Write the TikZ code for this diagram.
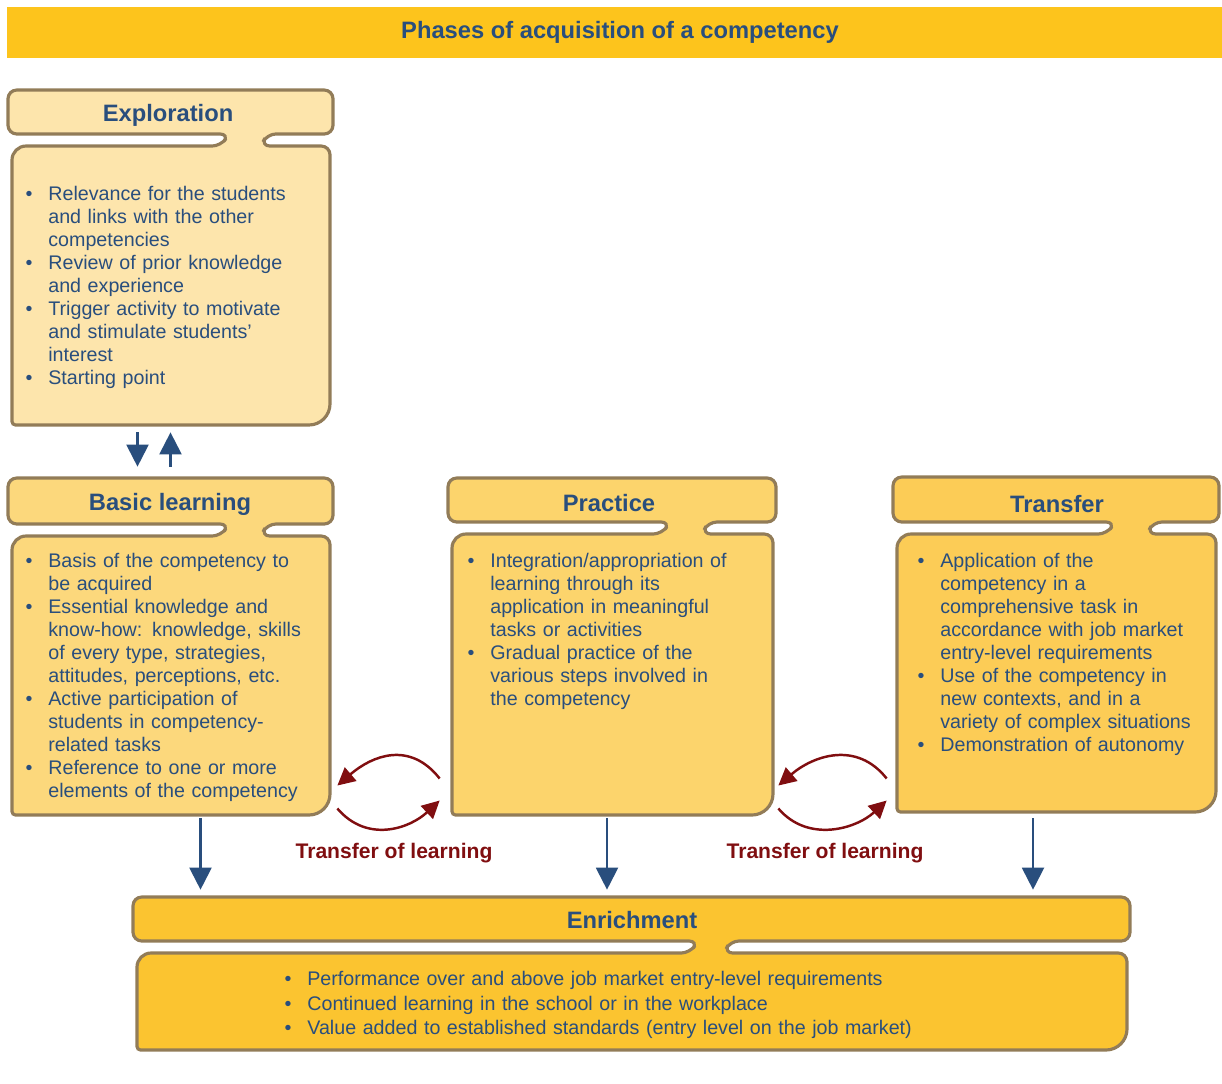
\documentclass[tikz,border=0pt]{standalone}
\usepackage{fontspec}
\setmainfont{Liberation Sans}
\usepackage{enumitem}
\usepackage{tikz}
\usetikzlibrary{arrows.meta, calc, fit}

\definecolor{titlebar}{RGB}{253,196,28}
\definecolor{inkblue}{RGB}{41,78,125}
\definecolor{inkred}{RGB}{128,14,16}
\definecolor{edge}{RGB}{146,124,88}
\definecolor{explfill}{RGB}{253,229,172}
\definecolor{basicfill}{RGB}{252,216,124}
\definecolor{pracfill}{RGB}{252,212,108}
\definecolor{transfill}{RGB}{252,204,86}
\definecolor{enrfill}{RGB}{251,196,48}

\setlist[itemize]{label=\textbullet, leftmargin=14.8pt, labelsep=9pt,
  itemsep=0pt, parsep=0pt, topsep=0pt, partopsep=0pt}

\newcommand{\headfont}{\fontsize{13.5pt}{15pt}\selectfont\bfseries}
\newcommand{\bodyfont}{\fontsize{11.2pt}{13.1pt}\selectfont}

\tikzset{
    phase/.style={draw=edge, line width=1.8pt, rounded corners=5pt},
    head/.style={text=inkblue, font=\headfont},
    bodytext/.style={text=inkblue, font=\bodyfont, anchor=north west,
        inner sep=0pt, align=left, text width=#1},
    bodytext/.default=175pt,
    area/.style={inner sep=0pt, draw=none},
    flow/.style={draw=inkblue, line width=1.2pt,
        -{Triangle[length=12.5pt, width=12.5pt]}},
    xfer/.style={draw=inkred, line width=1.4pt,
        -{Triangle[length=10pt, width=10pt]}},
    xferlabel/.style={text=inkred, font=\fontsize{12pt}{14pt}\selectfont\bfseries},
}

% tab shaped box: fill, left, right, top, header bottom, bottom, neck, neck width
\newcommand{\phaseshape}[8]{%
  \filldraw[phase, fill=#1]
    (#2,#5) -- (#2,#4) -- (#3,#4) -- (#3,#5) -- ({#7+#8},#5) -- ({#7+#8-6},{#5+12})
    -- ({#3-3},{#5+12}) [rounded corners=12pt] -- ({#3-3},#6) [rounded corners=2pt] -- ({#2+4},#6)
    [rounded corners=8pt] -- ({#2+4},{#5+12}) [rounded corners=5pt]
    -- ({#7-8},{#5+12}) -- (#7,#5) -- cycle;
}

\begin{document}
\begin{tikzpicture}[x=0.02cm, y=-0.02cm]
\useasboundingbox (0,0) rectangle (1222,1083);

% title
\fill[titlebar] (7,7) rectangle (1222,58);
\node[head] (title) at (620,32) {Phases of acquisition of a competency};

% boxes
\phaseshape{explfill}{8}{333}{90}{134}{425}{229}{38}
\phaseshape{basicfill}{8}{333}{478}{524}{815}{229}{38}
\phaseshape{pracfill}{448}{776}{478}{522}{815}{670}{38}
\phaseshape{transfill}{893}{1219}{477}{522}{812}{1115}{38}
\phaseshape{enrfill}{133}{1130}{897}{941}{1050}{698}{32}

\node[area, fit={(8,90) (333,425)}] (expl) {};
\node[area, fit={(8,478) (333,815)}] (basic) {};
\node[area, fit={(448,478) (776,815)}] (prac) {};
\node[area, fit={(893,477) (1219,812)}] (trans) {};
\node[area, fit={(133,897) (1130,1050)}] (enr) {};

% headers
\node[head] (explH) at (168,115) {Exploration};
\node[head] (basicH) at (170,504) {Basic learning};
\node[head] (pracH) at (609,503) {Practice};
\node[head] (transH) at (1057,504) {Transfer};
\node[head] (enrH) at (632,920) {Enrichment};

% contents
\node[bodytext] (explT) at (22,177) {%
  \begin{itemize}
  \item Relevance for the students\\and links with the other\\competencies
  \item Review of prior knowledge\\and experience
  \item Trigger activity to motivate\\and stimulate students’\\interest
  \item Starting point
  \end{itemize}};
\node[bodytext] (basicT) at (22,544) {%
  \begin{itemize}
  \item Basis of the competency to\\be acquired
  \item Essential knowledge and\\know-how: knowledge, skills\\of every type, strategies,\\attitudes, perceptions, etc.
  \item Active participation of\\students in competency-\\related tasks
  \item Reference to one or more\\elements of the competency
  \end{itemize}};
\node[bodytext] (pracT) at (464,544) {%
  \begin{itemize}
  \item Integration/appropriation of\\learning through its\\application in meaningful\\tasks or activities
  \item Gradual practice of the\\various steps involved in\\the competency
  \end{itemize}};
\node[bodytext] (transT) at (914,544) {%
  \begin{itemize}
  \item Application of the\\competency in a\\comprehensive task in\\accordance with job market\\entry-level requirements
  \item Use of the competency in\\new contexts, and in a\\variety of complex situations
  \item Demonstration of autonomy
  \end{itemize}};
\node[bodytext=420pt, font=\fontsize{11.2pt}{13.95pt}\selectfont] (enrT) at (281,961) {%
  \begin{itemize}
  \item Performance over and above job market entry-level requirements
  \item Continued learning in the school or in the workplace
  \item Value added to established standards (entry level on the job market)
  \end{itemize}};

% arrows between phases
\draw[flow] ($(expl.south)+(-33,7)$) -- ($(basic.north)+(-33,-11)$);
\draw[flow] ($(basic.north)+(0,-11)$) -- ($(expl.south)+(0,7)$);

\draw[flow] ($(basic.south)+(30,3)$) coordinate (b1) -- ($(b1 |- enr.north)+(0,-7)$);
\draw[flow] ($(prac.south)+(-5,3)$) coordinate (p1) -- ($(p1 |- enr.north)+(0,-7)$);
\draw[flow] ($(trans.south)+(-23,6)$) coordinate (t1) -- ($(t1 |- enr.north)+(0,-7)$);

% transfer of learning
\draw[xfer] ($(prac.west)+(-8,132)$) .. controls +(-30,-38) and +(35,-30) .. ($(basic.east)+(4,139)$);
\draw[xfer] ($(basic.east)+(4,162)$) .. controls +(30,35) and +(-30,28) .. ($(prac.west)+(-8,154)$);
\draw[xfer] ($(trans.west)+(-6,134)$) .. controls +(-30,-38) and +(35,-30) .. ($(prac.east)+(2,139)$);
\draw[xfer] ($(prac.east)+(2,162)$) .. controls +(30,35) and +(-30,28) .. ($(trans.west)+(-6,156)$);

\node[xferlabel] (lbl1) at (394,853) {Transfer of learning};
\node[xferlabel] (lbl2) at (825,853) {Transfer of learning};
\end{tikzpicture}
\end{document}
